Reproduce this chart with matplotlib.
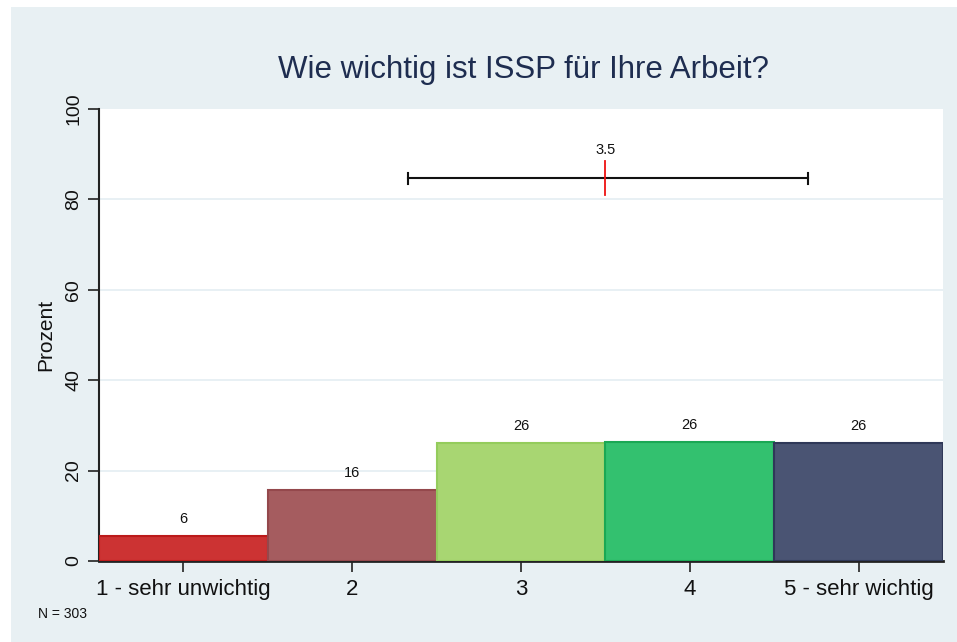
import matplotlib.pyplot as plt
from matplotlib.patches import Rectangle

plt.rcParams['font.family'] = ['Liberation Sans', 'DejaVu Sans']

categories = ['1 - sehr unwichtig', '2', '3', '4', '5 - sehr wichtig']
positions = [1, 2, 3, 4, 5]
percent = [5.6, 15.8, 26.1, 26.4, 26.1]
bar_labels = ['6', '16', '26', '26', '26']
mean_value = 3.5
sd_low, sd_high = 2.33, 4.70
n_text = 'N = 303'

face_colors = ['#cc3333', '#a55c5f', '#a8d672', '#33c16f', '#4a5473']
edge_colors = ['#bb1a1a', '#94484c', '#94cc5c', '#1aa854', '#2f3858']

fig = plt.figure(figsize=(9.57, 6.42), dpi=100)
fig.patch.set_facecolor('white')
fig.patches.append(Rectangle((11 / 957, 0), 1, 1 - 7 / 642, transform=fig.transFigure,
                             facecolor='#e8f0f3', edgecolor='none', zorder=-10))

ax = fig.add_axes([99 / 957, 1 - 561 / 642, (943 - 99) / 957, (561 - 109) / 642])
ax.set_facecolor('white')

ax.bar(positions, percent, width=1.0, color=face_colors, edgecolor=edge_colors,
       linewidth=1.5, zorder=3)
for x, h, lab in zip(positions, percent, bar_labels):
    ax.text(x, h + 2.2, lab, ha='center', va='bottom', fontsize=10.5, color='#111111')

# mean +/- sd marker
y_bar = 84.7
ax.plot([sd_low, sd_high], [y_bar, y_bar], color='#111111', lw=1.5, zorder=4)
for xe in (sd_low, sd_high):
    ax.plot([xe, xe], [y_bar - 1.2, y_bar + 1.2], color='#111111', lw=1.5, zorder=4)
ax.plot([mean_value, mean_value], [81.0, 88.5], color='#ee1111', lw=1.3, zorder=5)
ax.text(mean_value, 89.3, f'{mean_value:.1f}', ha='center', va='bottom', fontsize=10.5,
        color='#111111')

ax.set_xlim(0.5, 5.5)
ax.set_ylim(0, 100)
ax.set_xticks(positions)
ax.set_xticklabels(categories, fontsize=16)
ax.set_yticks([0, 20, 40, 60, 80, 100])
ax.set_yticklabels(['0', '20', '40', '60', '80', '100'], rotation=90, va='center',
                   fontsize=14)
ax.tick_params(axis='both', direction='out', length=8, width=1.2, color='#222222',
               labelcolor='#111111')
ax.tick_params(axis='x', pad=5)
ax.tick_params(axis='y', pad=4)

for y in [20, 40, 60, 80]:
    ax.axhline(y, color='#e4edf2', lw=1.2, zorder=1)

for s in ['top', 'right']:
    ax.spines[s].set_visible(False)
ax.spines['left'].set_linewidth(1.5)
ax.spines['bottom'].set_linewidth(2)
ax.spines['left'].set_color('#222222')
ax.spines['bottom'].set_color('#222222')

ax.set_ylabel('Prozent', fontsize=15, color='#111111', labelpad=7)
fig.text(523 / 957, 1 - 70 / 642, 'Wie wichtig ist ISSP für Ihre Arbeit?', ha='center',
         va='center', fontsize=22.5, color='#1e2d50')
fig.text(38 / 957, 1 - 614 / 642, n_text, ha='left', va='center', fontsize=10,
         color='#111111')

fig.savefig('out.png', dpi=100)
